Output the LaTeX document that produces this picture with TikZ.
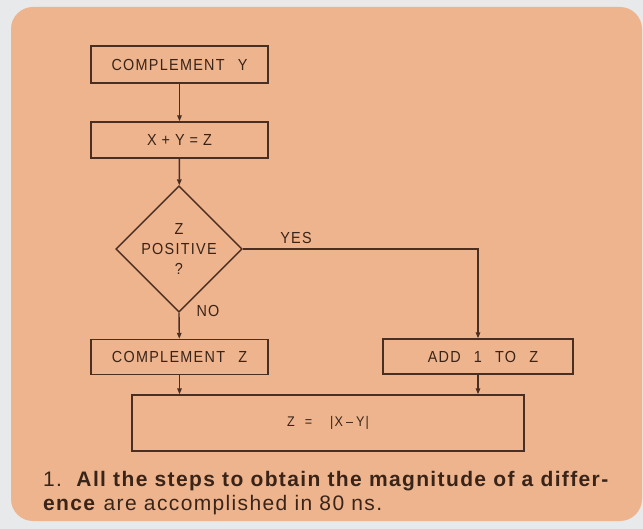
\documentclass[tikz,border=0pt]{standalone}
\usepackage{fontspec}
\setsansfont{Liberation Sans}
\newfontfamily\lettering[FakeStretch=0.9, LetterSpace=8, WordSpace=2.5]{Liberation Sans}
\newfontfamily\captionfont[LetterSpace=6.5]{Liberation Sans}
\usetikzlibrary{arrows.meta, positioning, shapes.geometric}
\definecolor{ink}{HTML}{4A2E22}
\definecolor{textink}{HTML}{3A2418}
\definecolor{panel}{HTML}{EDB48E}
\definecolor{backdrop}{HTML}{E8E9EB}
\tikzset{
  font=\lettering\fontsize{16}{20}\selectfont,
  >={Triangle[length=6pt, width=4.5pt]},
  %
  stepbox/.style={
    draw=ink, line width=1.4pt, inner sep=0pt, text=textink,
    minimum width=177pt, minimum height=36pt,
  },
  testbox/.style={
    stepbox, shape=diamond, align=center,
    minimum width=124pt, minimum height=122pt,
  },
  %
  flow/.style={draw=ink, line width=1.4pt, ->},
  lbl/.style={text=textink, inner sep=1pt},
  caption/.style={font=\captionfont\fontsize{21}{25}\selectfont,
                  text=textink, inner sep=0pt, anchor=base west},
}
\begin{document}
\begin{tikzpicture}[x=1pt, y=-1pt]

  % --- the card ------------------------------------------------------------
  \useasboundingbox (0,0) rectangle (643,529);
  \fill[backdrop] (0,0) rectangle (643,529);
  \fill[panel, rounded corners=22pt] (11,7) rectangle (642,521);

  % --- the steps -----------------------------------------------------------
  \node[stepbox, minimum height=37pt] (cy) at (179.5,64.5) {COMPLEMENT Y};
  \node[stepbox] (sum) at (179.5,140)
    {X\hspace{5pt}+\hspace{5pt}Y\hspace{5pt}=\hspace{5pt}Z};
  \node[testbox] (test) at (179,249) {Z\\POSITIVE\\?};
  \node[stepbox, minimum height=35pt] (cz) at (179.5,357) {COMPLEMENT Z};
  \node[stepbox, minimum width=190pt, minimum height=35pt] (add) at (478,356.5)
    {\hspace{10pt}ADD 1 TO Z};
  \node[stepbox, minimum width=392pt, minimum height=56pt,
        font=\lettering\fontsize{14}{17}\selectfont] (res) at (328,423)
    {Z\hspace{10pt}=\hspace{18pt}|X\hspace{3pt}–\hspace{3pt}Y|};

  \draw[flow] (cy) -- (sum);
  \draw[flow] (sum) -- (test);
  \draw[flow] (test.south) -- (cz);
  \draw[flow] (test.east) -| (add);
  \draw[flow] (cz.south) -- (cz.south |- res.north);
  \draw[flow] (add.south) -- (add.south |- res.north);

  \node[lbl] (yes) at (296,238) {YES};
  \node[lbl] (no) at (208,311) {NO};

  % --- the caption ---------------------------------------------------------
  \node[caption] (cap1) at (43,486)
    {1.\ \ \textbf{All the steps to obtain the magnitude of a differ-}};
  \node[caption] (cap2) at (43,510)
    {\textbf{ence} are accomplished in 80 ns.};

\end{tikzpicture}
\end{document}
